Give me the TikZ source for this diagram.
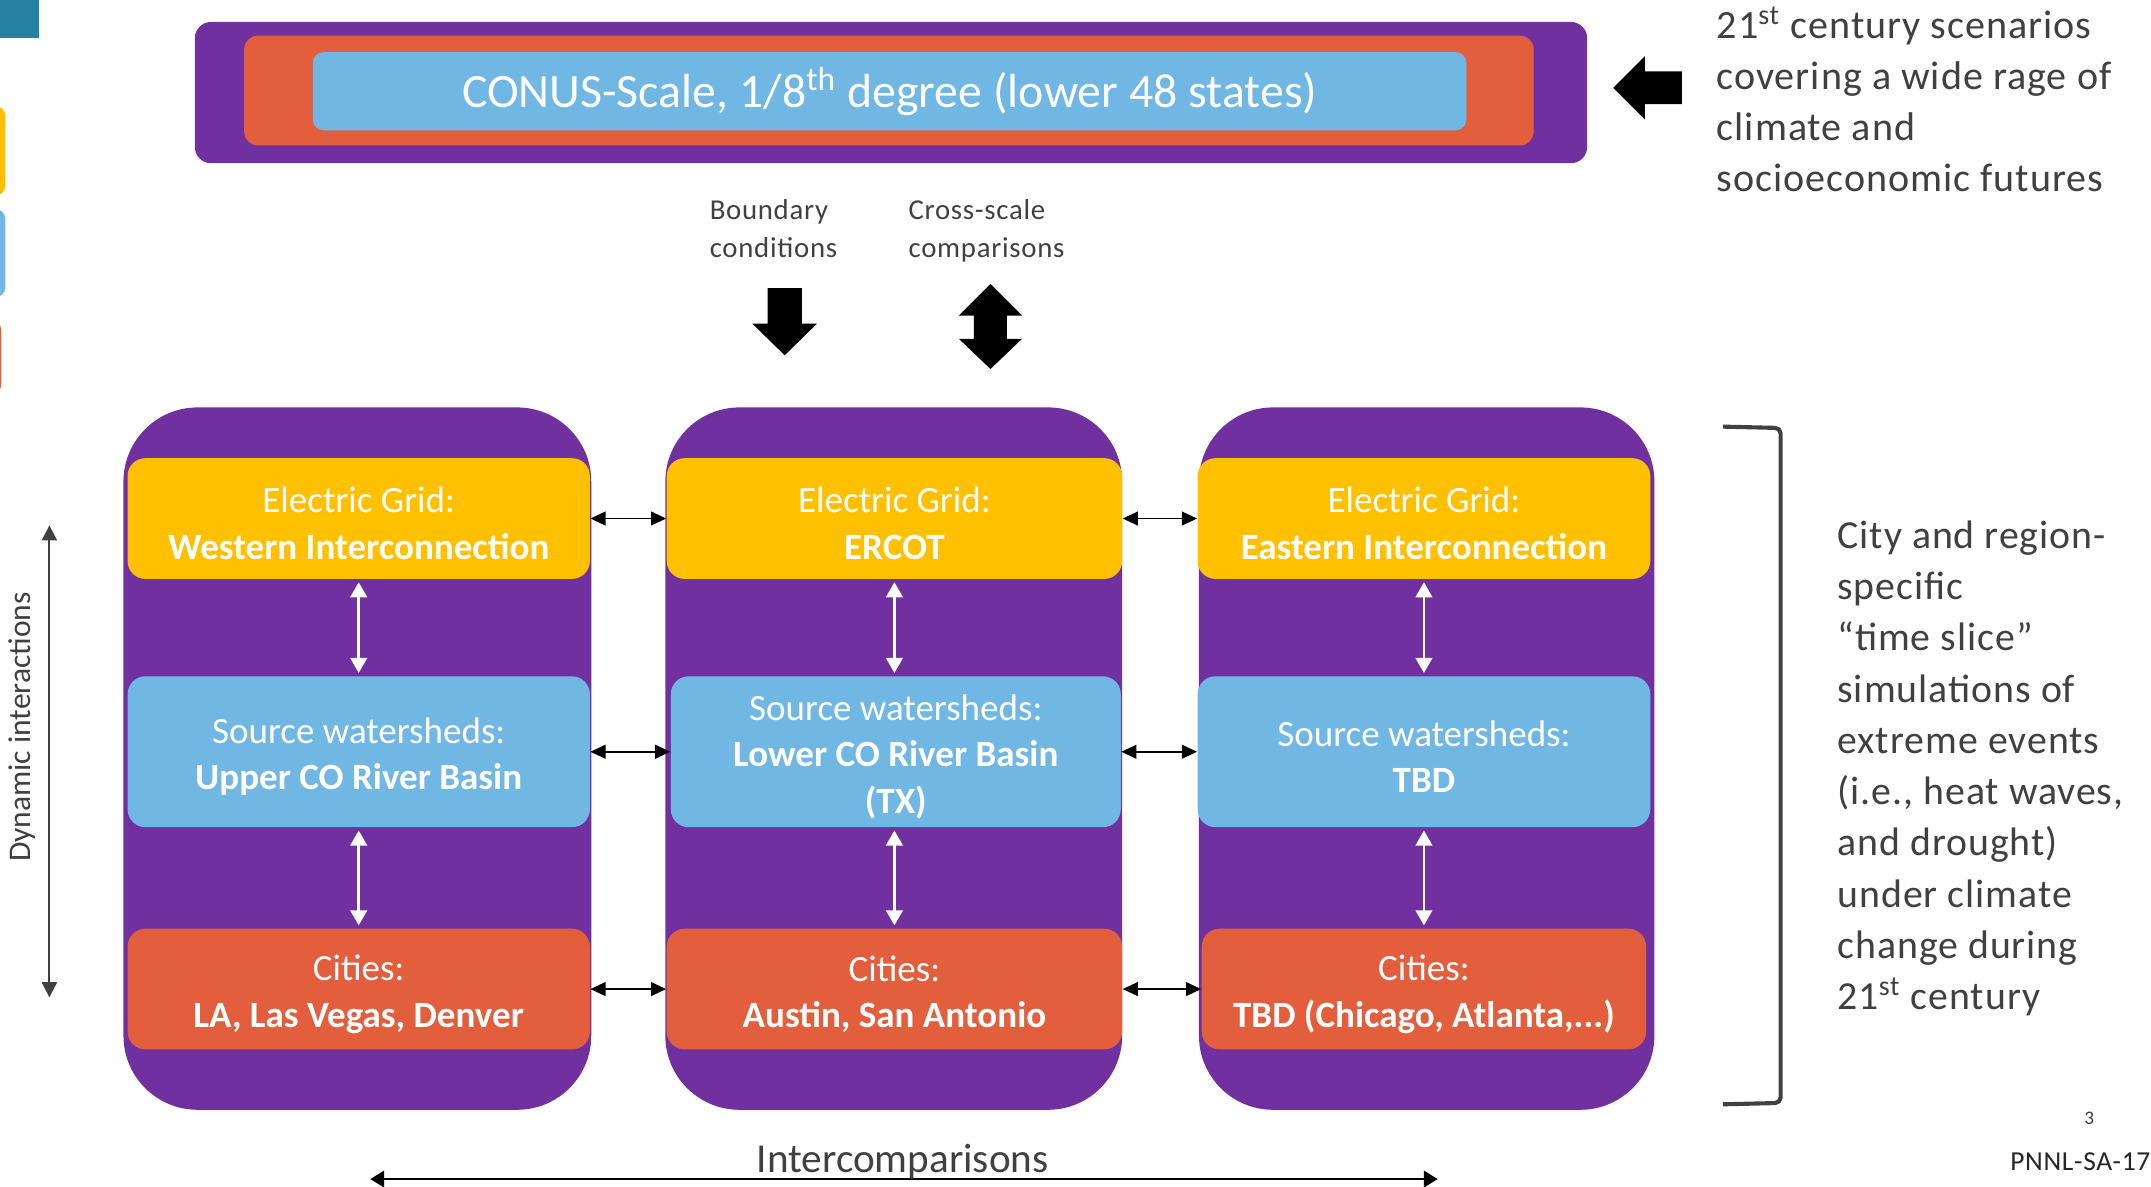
\documentclass[tikz,border=0pt]{standalone}
\usepackage{fontspec}
\setmainfont{Carlito}
\newfontfamily\widefont[LetterSpace=2.5]{Carlito}
\usetikzlibrary{arrows.meta}
\definecolor{pur}{HTML}{7030A0}
\definecolor{org}{HTML}{E25E3C}
\definecolor{yel}{HTML}{FFC000}
\definecolor{blu}{HTML}{71B7E4}
\definecolor{tealc}{HTML}{26809F}
\definecolor{txt}{HTML}{404040}
\newcommand\topstrut{\rule{0pt}{13pt}}
\begin{document}
\begin{tikzpicture}[x=0.5pt,y=-0.5pt,
  colbox/.style={fill=pur, rounded corners=27pt, minimum width=#1, minimum height=256pt, inner sep=0pt},
  ibox/.style={fill=#1, rounded corners=6.5pt, minimum height=44pt, text=white, align=center, inner sep=0pt,
     font=\fontsize{13.5}{17}\selectfont},
  harrow/.style={black, line width=0.65pt, {Triangle[length=5.5pt,width=5pt]}-{Triangle[length=5.5pt,width=5pt]}},
  varrow/.style={white, line width=1pt, shorten <=1pt, shorten >=1pt, {Triangle[length=5.5pt,width=6pt]}-{Triangle[length=5.5pt,width=6pt]}},
  garrow/.style={txt, line width=0.8pt, {Triangle[length=5.5pt,width=5.5pt]}-{Triangle[length=5.5pt,width=5.5pt]}},
  graytext/.style={text=txt, inner sep=0pt, align=left}
]
\useasboundingbox (0,0) rectangle (1568,865);

% clipped pieces at the left edge
\begin{scope}
\clip (0,0) rectangle (1568,865);
\fill[tealc] (0,0) rectangle (28.4,27.7);
\fill[yel, rounded corners=4pt] (-30,77) rectangle (4,143);
\fill[blu, rounded corners=4pt] (-30,152) rectangle (4,217);
\fill[org, rounded corners=4pt] (-30,233) rectangle (1,288);
\end{scope}

% top CONUS box
\node[fill=pur, rounded corners=6pt, minimum width=507.5pt, minimum height=51.5pt, inner sep=0pt] (conp) at (649.5,67.5) {};
\node[fill=org, rounded corners=5pt, minimum width=470pt, minimum height=40pt, inner sep=0pt] (cono) at (648,66) {};
\node[fill=blu, rounded corners=4pt, minimum width=420.5pt, minimum height=28.5pt, inner sep=0pt, text=white,
      font=\fontsize{17.45}{20}\selectfont] (conb) at (648.5,66.5) {CONUS-Scale, 1/8\textsuperscript{th} degree (lower 48 states)};

% left block arrow
\fill[black] (1176,64) -- (1199,41) -- (1199,52) -- (1226,52) -- (1226,76) -- (1199,76) -- (1199,87) -- cycle;

\node[graytext, anchor=north west, font=\widefont\fontsize{14.6}{18.5}\selectfont] (scen) at (1251,4.5)
  {21\textsuperscript{st} century scenarios\\covering a wide rage of\\climate and\\socioeconomic futures};

% boundary / cross-scale
\node[graytext, anchor=north west, font=\widefont\fontsize{10.5}{14}\selectfont] (bc) at (517,145) {Boundary\\conditions};
\node[graytext, anchor=north west, font=\widefont\fontsize{10.5}{14}\selectfont] (cs) at (662,145) {Cross-scale\\comparisons};
\fill[black] (559.5,210) -- (584.5,210) -- (584.5,236) -- (595.5,236) -- (572,259) -- (548.5,236) -- (559.5,236) -- cycle;
\fill[black] (722,207) -- (745,230) -- (734,230) -- (734,247) -- (745,247) -- (722,269) -- (699,247) -- (710,247) -- (710,230) -- (699,230) -- cycle;

% columns
\node[colbox=170.5pt] (c1) at (260.5,553) {};
\node[colbox=166.5pt] (c2) at (651.5,553) {};
\node[colbox=166pt] (c3) at (1040,553) {};

\node[ibox=yel, minimum width=168.5pt] (y1) at (261.5,378) {\topstrut Electric Grid:\\\textbf{Western Interconnection}};
\node[ibox=blu, minimum width=168.5pt, minimum height=55pt] (b1) at (261.5,548) {\topstrut Source watersheds:\\\textbf{Upper CO River Basin}};
\node[ibox=org, minimum width=168.5pt] (r1) at (261.5,721) {\topstrut Cities:\\\textbf{LA, Las Vegas, Denver}};

\node[ibox=yel, minimum width=166pt] (y2) at (652,378) {\topstrut Electric Grid:\\\textbf{ERCOT}};
\node[ibox=blu, minimum width=164pt, minimum height=55pt] (b2) at (653,548) {\topstrut Source watersheds:\\\textbf{Lower CO River Basin}\\\textbf{(TX)}};
\node[ibox=org, minimum width=166pt] (r2) at (652,721) {\topstrut Cities:\\\textbf{Austin, San Antonio}};

\node[ibox=yel, minimum width=165pt] (y3) at (1038,378) {\topstrut Electric Grid:\\\textbf{Eastern Interconnection}};
\node[ibox=blu, minimum width=165pt, minimum height=55pt] (b3) at (1038,548) {\topstrut Source watersheds:\\\textbf{TBD}};
\node[ibox=org, minimum width=162pt] (r3) at (1038,721) {\topstrut Cities:\\\textbf{TBD (Chicago, Atlanta,...)}};

% horizontal links
\draw[harrow] (y1.east) -- (y2.west);
\draw[harrow] (y2.east) -- (y3.west);
\draw[harrow] (b1.east) -- (b2.west);
\draw[harrow] (b2.east) -- (b3.west);
\draw[harrow] (r1.east) -- (r2.west);
\draw[harrow] (r2.east) -- (r3.west);

% vertical links
\draw[varrow] (y1.south) -- (y1.south |- b1.north);
\draw[varrow] (b1.south) -- (b1.south |- r1.north);
\draw[varrow] (y2.south) -- (y2.south |- b2.north);
\draw[varrow] (y2.south |- b2.south) -- (y2.south |- r2.north);
\draw[varrow] (y3.south) -- (y3.south |- b3.north);
\draw[varrow] (b3.south) -- (b3.south |- r3.north);

% dynamic interactions
\coordinate (dtop) at (36,383);
\coordinate (dbot) at (36,727);
\draw[garrow] (dtop) -- (dbot);
\node[text=txt, rotate=90, inner sep=0pt, font=\fontsize{11.5}{14}\selectfont] (dyn) at (16,530) {Dynamic interactions};

% bracket and right text
\draw[txt, line width=1.5pt, rounded corners=2pt] (1256,311) -- (1298,312) -- (1298,804) -- (1256,805);
\node[graytext, anchor=north west, font=\widefont\fontsize{14.5}{18.7}\selectfont] (city) at (1339,379)
  {City and region-\\specific\\“time slice”\\simulations of\\extreme events\\(i.e., heat waves,\\and drought)\\under climate\\change during\\21\textsuperscript{st} century};

% intercomparisons
\coordinate (il) at (270,859.5);
\coordinate (ir) at (1048,859.5);
\draw[black, line width=0.75pt, {Triangle[length=5pt,width=6pt]}-{Triangle[length=5pt,width=6pt]}] (il) -- (ir);
\node[text=txt, anchor=base, inner sep=0pt, font=\fontsize{15}{18}\selectfont] (inter) at (658,855) {Intercomparisons};

% page number and id
\node[text=txt, inner sep=0pt, font=\fontsize{7}{8}\selectfont] (pg) at (1523,815) {3};
\node[text=black!85, anchor=base west, inner sep=0pt, font=\widefont\fontsize{10}{12}\selectfont] (pnnl) at (1465,853) {PNNL-SA-17};
\end{tikzpicture}
\end{document}
